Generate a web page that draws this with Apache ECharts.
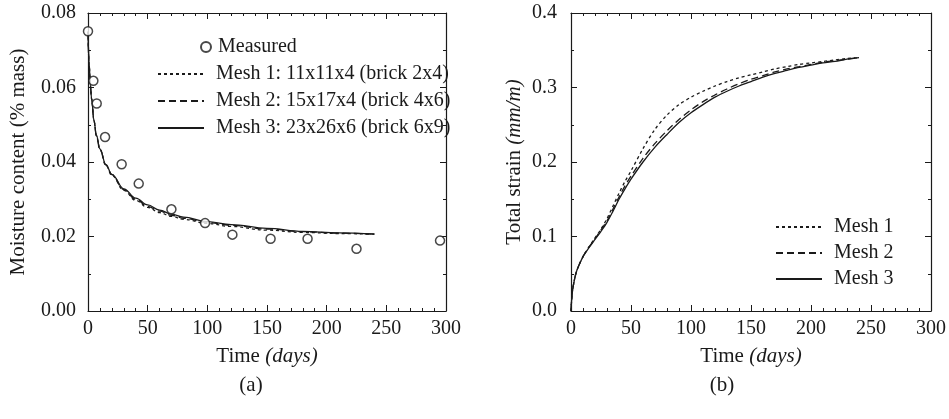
<!DOCTYPE html>
<html><head><meta charset="utf-8">
<script src="https://cdn.jsdelivr.net/npm/echarts@6/dist/echarts.min.js"></script>
<style>html,body{margin:0;padding:0;background:#fff}#c{width:949px;height:419px}</style>
</head><body><div id="c"></div>
<script>
// (a) moisture content: measured points
const measDays = [0, 4.5, 7.3, 14.3, 28.2, 42.5, 69.9, 98.1, 121, 153, 184, 225, 295];
const measMoisture = [0.0751, 0.0618, 0.0557, 0.0467, 0.0394, 0.0342, 0.0273, 0.0236, 0.0205, 0.0194, 0.0194, 0.0167, 0.0189];

// (a) moisture content: simulated, three meshes
const moistDays = [0, 1, 2, 3, 5, 7, 10, 15, 20, 30, 40, 50, 60, 70, 80, 100, 120, 150, 180, 210, 240];
const moistMesh1 = [0.0750, 0.0660, 0.0605, 0.0570, 0.0510, 0.0470, 0.0433, 0.0391, 0.0364, 0.0324, 0.0297, 0.0278, 0.0264, 0.0254, 0.0246, 0.0235, 0.0227, 0.0217, 0.0211, 0.0208, 0.0206];
const moistMesh2 = [0.0750, 0.0660, 0.0605, 0.0570, 0.0511, 0.0471, 0.0434, 0.0392, 0.0366, 0.0326, 0.0300, 0.0281, 0.0268, 0.0257, 0.0249, 0.0238, 0.0230, 0.0220, 0.0213, 0.0209, 0.0206];
const moistMesh3 = [0.0750, 0.0660, 0.0605, 0.0570, 0.0512, 0.0472, 0.0435, 0.0393, 0.0367, 0.0328, 0.0303, 0.0285, 0.0271, 0.0260, 0.0252, 0.0240, 0.0232, 0.0222, 0.0214, 0.0210, 0.0207];

// (b) total strain, three meshes
const strainDays = [0, 1, 3, 5, 10, 15, 20, 25, 30, 35, 40, 45, 50, 60, 70, 80, 90, 100, 110, 120, 130, 140, 150, 160, 170, 180, 190, 200, 210, 220, 230, 240];
const strainMesh1 = [0, 0.024, 0.043, 0.055, 0.073, 0.086, 0.098, 0.110, 0.124, 0.141, 0.158, 0.174, 0.188, 0.218, 0.244, 0.263, 0.277, 0.287, 0.295, 0.302, 0.308, 0.313, 0.317, 0.321, 0.325, 0.328, 0.331, 0.333, 0.335, 0.337, 0.339, 0.340];
const strainMesh2 = [0, 0.024, 0.043, 0.055, 0.073, 0.086, 0.097, 0.109, 0.121, 0.137, 0.153, 0.168, 0.181, 0.205, 0.225, 0.242, 0.257, 0.270, 0.281, 0.290, 0.298, 0.305, 0.311, 0.316, 0.321, 0.325, 0.328, 0.331, 0.334, 0.336, 0.338, 0.340];
const strainMesh3 = [0, 0.024, 0.043, 0.055, 0.073, 0.085, 0.096, 0.107, 0.119, 0.134, 0.150, 0.164, 0.177, 0.200, 0.220, 0.237, 0.253, 0.266, 0.277, 0.287, 0.295, 0.302, 0.308, 0.314, 0.319, 0.323, 0.327, 0.330, 0.333, 0.335, 0.338, 0.340];

const meshNamesA = ['Mesh 1: 11x11x4 (brick 2x4)', 'Mesh 2: 15x17x4 (brick 4x6)', 'Mesh 3: 23x26x6 (brick 6x9)'];
const meshNamesB = ['Mesh 1', 'Mesh 2', 'Mesh 3'];

const FONT = 'Liberation Serif';
const INK = '#1a1a1a';
const dashes = [[3, 3], [7, 4], 'solid'];

const pairs = (xs, ys) => xs.map((x, i) => [x, ys[i]]);

function xAxes(grid, nameGap) {
  const base = {
    gridIndex: grid, type: 'value', min: 0, max: 300, interval: 50,
    splitLine: { show: false },
    axisLine: { show: true, onZero: false, lineStyle: { color: INK, width: 1.2 } },
    axisTick: { show: true, inside: true, length: 6, lineStyle: { color: INK } },
    minorTick: { show: true, splitNumber: 5, length: 3, lineStyle: { color: INK } }
  };
  return [
    Object.assign({}, base, {
      position: 'bottom',
      axisLabel: { show: true, color: INK, fontFamily: FONT, fontSize: 20, margin: 8 },
      name: '{n|Time }{i|(days)}', nameLocation: 'middle', nameGap: nameGap,
      nameTextStyle: { rich: {
        n: { fontFamily: FONT, fontSize: 21, color: INK },
        i: { fontFamily: FONT, fontSize: 21, color: INK, fontStyle: 'italic' } } }
    }),
    Object.assign({}, base, { position: 'top', axisLabel: { show: false } })
  ];
}

function yAxes(grid, max, interval, fmt, name, nameGap, margin) {
  const base = {
    gridIndex: grid, type: 'value', min: 0, max: max, interval: interval,
    splitLine: { show: false },
    axisLine: { show: true, onZero: false, lineStyle: { color: INK, width: 1.2 } },
    axisTick: { show: true, inside: true, length: 6, lineStyle: { color: INK } },
    minorTick: { show: true, splitNumber: 2, length: 3, lineStyle: { color: INK } }
  };
  return [
    Object.assign({}, base, {
      position: 'left',
      axisLabel: { show: true, color: INK, fontFamily: FONT, fontSize: 20, margin: margin,
        formatter: v => v.toFixed(fmt) },
      name: name, nameLocation: 'middle', nameGap: nameGap,
      nameTextStyle: { rich: {
        n: { fontFamily: FONT, fontSize: 21, color: INK },
        i: { fontFamily: FONT, fontSize: 21, color: INK, fontStyle: 'italic' } } }
    }),
    Object.assign({}, base, { position: 'right', axisLabel: { show: false } })
  ];
}

const moistSeries = [moistMesh1, moistMesh2, moistMesh3];
const strainSeries = [strainMesh1, strainMesh2, strainMesh3];

const series = [{
  name: 'Measured', type: 'scatter', xAxisIndex: 0, yAxisIndex: 0,
  data: pairs(measDays, measMoisture),
  symbol: 'circle', symbolSize: 9,
  itemStyle: { color: '#fff', borderColor: INK, borderWidth: 1.5 },
  z: 5
}];
moistSeries.forEach((ys, k) => series.push({
  name: meshNamesA[k], type: 'line', xAxisIndex: 0, yAxisIndex: 0,
  data: pairs(moistDays, ys), symbol: 'none', showSymbol: false, smooth: 0.4, smoothMonotone: 'x',
  lineStyle: { color: INK, width: 1.3, type: dashes[k] }, itemStyle: { color: INK }
}));
strainSeries.forEach((ys, k) => series.push({
  name: meshNamesB[k], type: 'line', xAxisIndex: 2, yAxisIndex: 2,
  data: pairs(strainDays, ys), symbol: 'none', showSymbol: false, smooth: 0.3,
  lineStyle: { color: INK, width: 1.3, type: dashes[k] }, itemStyle: { color: INK }
}));

const legendText = { fontFamily: FONT, fontSize: 20, color: INK, padding: [0, 0, 0, 7] };
// line legends: draw the dash pattern only, no marker dot
const lineLegendItem = { opacity: 0 };

const option = {
  backgroundColor: '#fff',
  animation: false,
  grid: [
    { left: 88, right: 503, top: 13, bottom: 108 },
    { left: 571, right: 18, top: 13, bottom: 108 }
  ],
  xAxis: [...xAxes(0, 35), ...xAxes(1, 35)],
  yAxis: [
    ...yAxes(0, 0.08, 0.02, 2, '{n|Moisture content (% mass)}', 59, 12),
    ...yAxes(1, 0.4, 0.1, 1, '{n|Total strain }{i|(mm/m)}', 46, 14)
  ],
  legend: [
    { data: ['Measured'], left: 195, top: 32, orient: 'vertical', itemWidth: 10, itemHeight: 10,
      textStyle: Object.assign({}, legendText, { padding: [0, 0, 0, 2] }) },
    { data: meshNamesA, left: 152, top: 59, orient: 'vertical', itemWidth: 46, itemHeight: 10, itemGap: 7,
      itemStyle: lineLegendItem, textStyle: legendText },
    { data: meshNamesB, left: 770, top: 212, orient: 'vertical', itemWidth: 46, itemHeight: 10, itemGap: 6,
      itemStyle: lineLegendItem, textStyle: legendText }
  ],
  graphic: [
    { type: 'text', style: { text: '(a)', x: 251, y: 385, font: '21px "Liberation Serif"', fill: INK, textAlign: 'center', textVerticalAlign: 'middle' } },
    { type: 'text', style: { text: '(b)', x: 722, y: 385, font: '21px "Liberation Serif"', fill: INK, textAlign: 'center', textVerticalAlign: 'middle' } }
  ],
  series: series
};

echarts.init(document.getElementById('c')).setOption(option);
</script></body></html>
